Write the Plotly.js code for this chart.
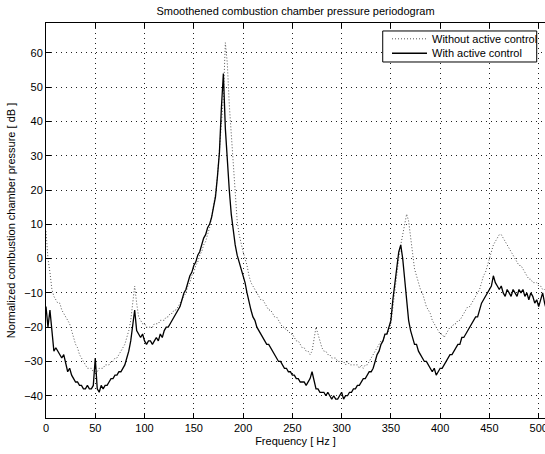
<!DOCTYPE html>
<html>
<head>
<meta charset="utf-8">
<script src="https://cdn.plot.ly/plotly-3.0.1.min.js"></script>
<style>html,body{margin:0;padding:0;background:#fff;}#chart{width:545px;height:454px;}</style>
</head>
<body>
<div id="chart"></div>
<script>
// Frequency sampling (Hz): uniform grid, 2 Hz step from 0 to 510
const freqStart = 0;
const freqStep = 2;

// Without active control [dB]
const withoutControl = [
  8,0,-4,-9,-11,-12,-13,-13,-15,-16,
  -17,-18,-19,-21,-23,-25,-26,-28,-29,-30,
  -31,-32,-32,-32,-33,-33,-33,-32,-32,-32,
  -31,-31,-31,-30,-30,-29,-29,-28,-27,-26,
  -25,-23,-21,-18,-13,-8,-13,-17,-18,-19,
  -19,-20,-20,-20,-20,-19,-19,-19,-18,-18,
  -18,-17,-17,-16,-16,-15,-15,-14,-13,-12,
  -11,-10,-8,-7,-5,-4,-2,-1,1,2,
  4,5,7,9,12,15,19,24,31,38,
  47,63,57,45,36,26,18,11,7,4,
  2,0,-2,-5,-7,-8,-9,-10,-11,-12,
  -12,-13,-14,-15,-15,-16,-17,-17,-18,-19,
  -20,-20,-21,-21,-22,-22,-23,-24,-24,-25,
  -26,-26,-27,-27,-28,-27,-24,-20,-22,-24,
  -26,-27,-27,-28,-28,-29,-29,-29,-30,-30,
  -30,-30,-31,-30,-31,-31,-31,-31,-31,-32,
  -31,-32,-31,-31,-30,-29,-28,-27,-26,-25,
  -24,-24,-22,-22,-21,-19,-14,-10,-5,0,
  4,7,11,13,11,6,1,-3,-5,-7,
  -9,-10,-12,-14,-15,-16,-18,-19,-20,-21,
  -22,-22,-23,-22,-21,-20,-20,-19,-19,-18,
  -18,-17,-16,-15,-14,-14,-13,-12,-11,-10,
  -9,-7,-5,-4,-2,0,2,4,5,6,
  7,7,6,5,4,3,2,1,0,-1,
  -2,-2,-3,-4,-5,-6,-6,-7,-7,-7,
  -8,-8,-9,-9,-9,-8
];

// With active control [dB]
const withControl = [
  -14,-20,-15,-21,-27,-26,-27,-28,-29,-28,
  -31,-33,-32,-34,-35,-36,-36,-37,-37,-38,
  -38,-37,-38,-38,-37,-29,-38,-39,-37,-38,
  -37,-37,-36,-35,-35,-34,-34,-33,-33,-32,
  -31,-29,-27,-24,-20,-15,-21,-22,-23,-22,
  -24,-25,-24,-24,-25,-24,-23,-24,-22,-23,
  -21,-20,-20,-19,-18,-17,-16,-15,-14,-12,
  -10,-9,-7,-5,-4,-2,-1,1,2,4,
  6,7,9,10,12,15,18,24,31,44,
  54,38,28,20,13,8,4,1,-1,-3,
  -5,-7,-10,-13,-15,-17,-18,-20,-21,-22,
  -23,-24,-25,-25,-26,-27,-28,-29,-30,-30,
  -31,-32,-32,-33,-33,-34,-34,-35,-35,-36,
  -36,-36,-37,-36,-35,-33,-36,-38,-38,-39,
  -39,-39,-40,-39,-40,-41,-40,-41,-41,-40,
  -39,-41,-40,-40,-39,-39,-38,-38,-37,-37,
  -36,-35,-35,-34,-33,-33,-32,-30,-28,-27,
  -25,-24,-22,-22,-20,-18,-12,-7,-2,2,
  4,0,-6,-12,-18,-21,-23,-25,-25,-27,
  -28,-29,-30,-30,-31,-32,-33,-32,-34,-33,
  -32,-32,-31,-30,-29,-28,-28,-27,-26,-25,
  -25,-23,-23,-22,-21,-20,-19,-18,-17,-17,
  -15,-13,-12,-11,-10,-9,-8,-5,-7,-8,
  -9,-8,-10,-11,-9,-10,-11,-9,-10,-11,
  -9,-10,-9,-11,-10,-12,-10,-11,-13,-12,
  -14,-12,-10,-13,-15,-13
];

const seriesNames = ['Without active control', 'With active control'];
const xTicks = [0,50,100,150,200,250,300,350,400,450,500];
const yTicks = [-40,-30,-20,-10,0,10,20,30,40,50,60];

const freq = withControl.map((_, i) => freqStart + i * freqStep);

const FONT = 'Liberation Sans, Arial, Helvetica, sans-serif';
const DOT_STYLE = {color: '#555555', width: 1, dash: '1px,2px'};
const SOLID_STYLE = {color: '#000000', width: 1.3};

const traces = [
  {x: freq, y: withoutControl, name: seriesNames[0], type: 'scatter', mode: 'lines', line: DOT_STYLE},
  {x: freq, y: withControl, name: seriesNames[1], type: 'scatter', mode: 'lines', line: SOLID_STYLE}
];

const axisCommon = {
  showline: true, linecolor: '#000', linewidth: 1,
  ticks: 'inside', ticklen: 5, tickwidth: 1, tickcolor: '#000',
  showgrid: true, gridcolor: '#222', gridwidth: 1, griddash: '1px,4px',
  zeroline: false, tickfont: {family: FONT, size: 11, color: '#000'},
  tickmode: 'array', ticklabeloverflow: 'allow'
};

// Legend box (drawn in paper coordinates)
const lg = {x0: 0.6748, x1: 0.9834, y0: 0.9013, y1: 0.9798,
            lineX0: 0.6934, lineX1: 0.7635, textX: 0.7695, rowY: [0.9600, 0.9234]};

const shapes = [
  {type: 'rect', xref: 'paper', yref: 'paper', x0: lg.x0, x1: lg.x1, y0: lg.y0, y1: lg.y1,
   line: {color: '#000', width: 1}, fillcolor: '#fff', layer: 'above'},
  {type: 'line', xref: 'paper', yref: 'paper', x0: lg.lineX0, x1: lg.lineX1, y0: lg.rowY[0], y1: lg.rowY[0],
   line: DOT_STYLE, layer: 'above'},
  {type: 'line', xref: 'paper', yref: 'paper', x0: lg.lineX0, x1: lg.lineX1, y0: lg.rowY[1], y1: lg.rowY[1],
   line: SOLID_STYLE, layer: 'above'}
];
const annotations = seriesNames.map((name, i) => ({
  xref: 'paper', yref: 'paper', x: lg.textX, y: lg.rowY[i], xanchor: 'left', yanchor: 'middle',
  text: name, showarrow: false, font: {family: FONT, size: 11, color: '#000'}
}));

const layout = {
  width: 545, height: 454,
  margin: {l: 46, r: 0, t: 23, b: 36},
  paper_bgcolor: '#fff', plot_bgcolor: '#fff',
  font: {family: FONT, size: 11, color: '#000'},
  title: {text: 'Smoothened combustion chamber pressure periodogram',
          font: {family: FONT, size: 11, color: '#000'},
          x: 0.5, xref: 'paper', y: 0.976, yref: 'container', yanchor: 'middle'},
  xaxis: Object.assign({}, axisCommon, {
    range: [0, 506.4], tickvals: xTicks, ticktext: xTicks.map(String), mirror: 'ticks',
    title: {text: 'Frequency [ Hz ]', font: {family: FONT, size: 11, color: '#000'}, standoff: 4}
  }),
  yaxis: Object.assign({}, axisCommon, {
    range: [-46.5, 68.75], tickvals: yTicks, mirror: false,
    ticktext: yTicks.map(v => v < 0 ? '\u2212' + Math.abs(v) : String(v)),
    title: {text: 'Normalized combustion chamber pressure [ dB ]', font: {family: FONT, size: 11, color: '#000'}, standoff: 6}
  }),
  showlegend: false,
  shapes: shapes,
  annotations: annotations
};

Plotly.newPlot('chart', traces, layout, {displayModeBar: false, staticPlot: true});
</script>
</body>
</html>
